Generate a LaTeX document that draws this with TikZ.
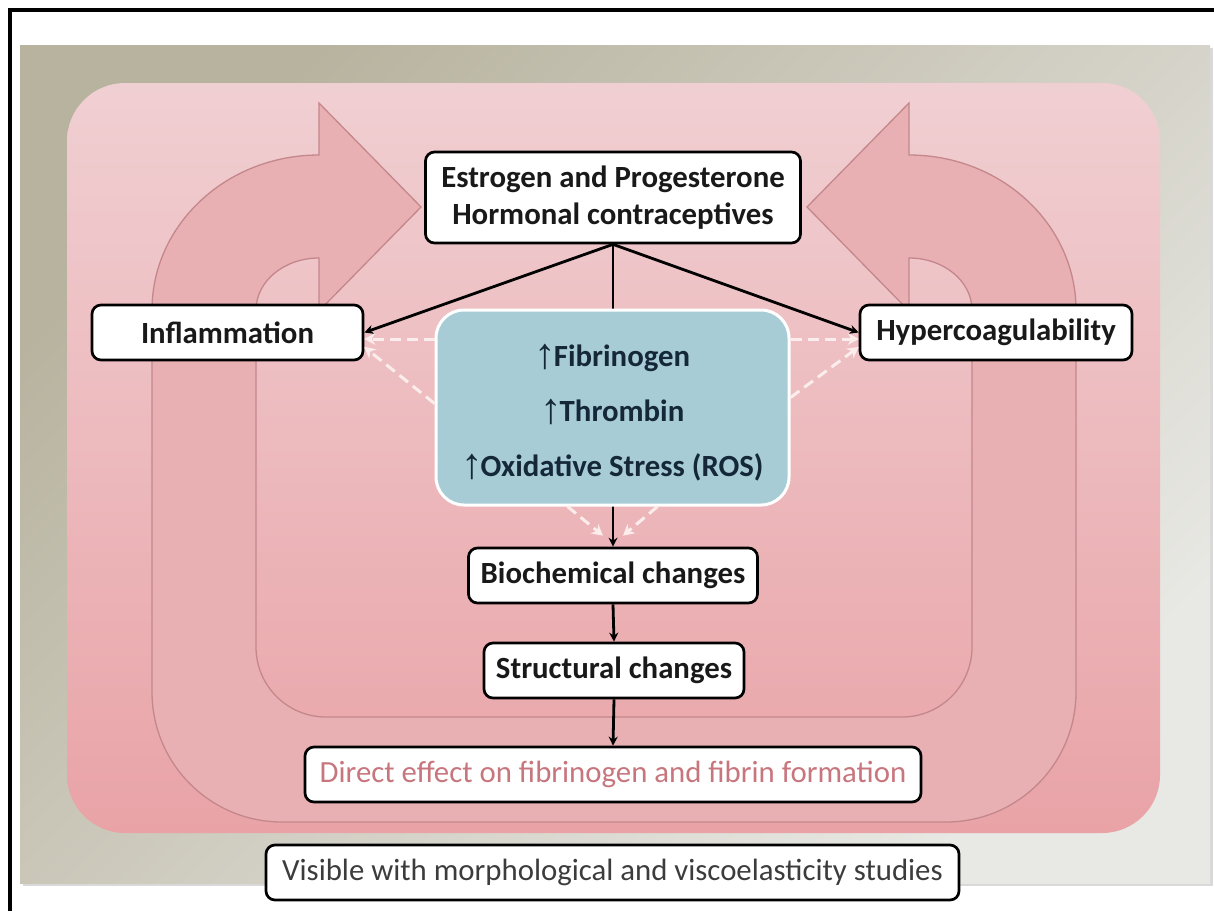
\documentclass[tikz,border=0pt]{standalone}
\usepackage{fontspec}
\usepackage{graphicx}
\setmainfont{Carlito}
\newfontfamily\arrowfont{Liberation Sans}
\usetikzlibrary{arrows.meta,calc}
\definecolor{pinktop}{HTML}{F0CFD2}
\definecolor{pinkbot}{HTML}{E9A3A7}
\definecolor{bandfill}{HTML}{E8B0B3}
\definecolor{bandline}{HTML}{C4878C}
\definecolor{bluefill}{HTML}{A8CCD6}
\definecolor{bluetext}{HTML}{14283A}
\definecolor{graytl}{HTML}{B8B39F}
\definecolor{graybr}{HTML}{E8E8E4}
\definecolor{directtxt}{HTML}{C8767E}
\definecolor{visibletxt}{HTML}{3C3C3C}
\definecolor{dashcol}{HTML}{FBEDEC}
\newcommand{\uparr}{\raisebox{-2pt}{\scalebox{1.4}{\arrowfont ↑}}\kern-2.5pt}
\begin{document}
\begin{tikzpicture}[x=1pt,y=-1pt,
  box/.style={draw=black, line width=2.7pt, fill=white, rounded corners=9pt, inner sep=0pt, align=center,
    font=\fontsize{30.8}{37}\selectfont\bfseries, text=black!90},
  plainbox/.style={box, font=\fontsize{30.8}{37}\selectfont},
  blk/.style={line width=2.8pt, -{Stealth[length=9pt,width=9pt]}},
  wdash/.style={draw=dashcol, line width=3pt, dash pattern=on 11pt off 6pt, -{Stealth[length=11pt,width=12pt]}},
  band/.style={fill=bandfill, draw=bandline, line width=1.3pt}
]
\useasboundingbox (0,0) rectangle (1214,911);
\fill[white] (0,0) rectangle (1214,911);
% frame
\draw[line width=3.5pt] (9.75,911) -- (9.75,9.75) -- (1214,9.75);
% gray panel
\fill[black!15] (23,48) rectangle (1213,886);
\shade[shading=axis, top color=graytl, bottom color=graybr, shading angle=45] (20,45) rectangle (1210,883);
% pink container
\shade[top color=pinktop, bottom color=pinkbot, rounded corners=58pt] (67,83) rectangle (1160,833);
% U-shaped double arrow band
\path[band] (319,103) -- (319,155)
  .. controls (226.8,155) and (152,224.4) .. (152,310)
  -- (152,692) .. controls (152,763.8) and (210.2,822) .. (282,822)
  -- (946,822) .. controls (1017.8,822) and (1076,763.8) .. (1076,692)
  -- (1076,310) .. controls (1076,224.4) and (1001.2,155) .. (909,155)
  -- (909,103) -- (807,207) -- (909,311) -- (909,258)
  .. controls (943.8,258) and (972,281.3) .. (972,310)
  -- (972,647) .. controls (972,685.7) and (940.7,717) .. (902,717)
  -- (326,717) .. controls (287.3,717) and (256,685.7) .. (256,647)
  -- (256,310) .. controls (256,281.3) and (284.2,258) .. (319,258)
  -- (319,311) -- (421,207) -- cycle;
% nodes
\node[box, minimum width=375pt, minimum height=91pt] (est) at (613,197.5) {Estrogen and Progesterone\\Hormonal contraceptives};
\node[box, minimum width=271pt, minimum height=55pt] (infl) at (227.5,332.5) {Inflammation};
\node[box, minimum width=272pt, minimum height=55pt] (hyper) at (996,332.5) {Hypercoagulability};
\node[box, minimum width=289pt, minimum height=55pt] (bio) at (613,575.5) {Biochemical changes};
\node[box, minimum width=260pt, minimum height=55pt] (struct) at (614,670.5) {Structural changes};
\node[plainbox, minimum width=616pt, minimum height=55pt, text=directtxt] (direct) at (613,774.5) {Direct effect on fibrinogen and fibrin formation};
\node[plainbox, minimum width=693pt, minimum height=55pt, text=visibletxt] (vis) at (612.5,872.5) {Visible with morphological and viscoelasticity studies};
% central line behind blue box
\draw[blk] (est.south) -- (bio.north);
\node[draw=white, line width=3pt, fill=bluefill, rounded corners=28pt, minimum width=353pt, minimum height=195pt,
  inner sep=0pt] (blue) at (612.5,407.5) {};
\node[align=center, inner sep=0pt, font=\fontsize{30.8}{55}\selectfont\bfseries, text=bluetext] (bluetxt) at (612.5,413)
  {\uparr Fibrinogen\\\uparr Thrombin\\\uparr Oxidative Stress (ROS)};
% black arrows
\draw[blk] (est.south) -- (infl.east);
\draw[blk] (est.south) -- (hyper.west);
\draw[blk] (bio.south) -- (struct.north);
\draw[blk] (struct.south) -- (direct.north);
% white dashed arrows
\draw[wdash] ([yshift=68.5pt]blue.west) -- ([yshift=-6.5pt]infl.east);
\draw[wdash] ([yshift=4pt]blue.west) -- ([yshift=-14.5pt]infl.east);
\draw[wdash] ([yshift=68.5pt]blue.east) -- ([yshift=-6.5pt]hyper.west);
\draw[wdash] ([yshift=10pt]blue.east) -- ([yshift=-14.5pt]hyper.west);
\draw[wdash] ([xshift=-45pt]blue.south) -- ([xshift=-10pt,yshift=11pt]bio.north);
\draw[wdash] ([xshift=45pt]blue.south) -- ([xshift=10pt,yshift=11pt]bio.north);
\end{tikzpicture}
\end{document}
